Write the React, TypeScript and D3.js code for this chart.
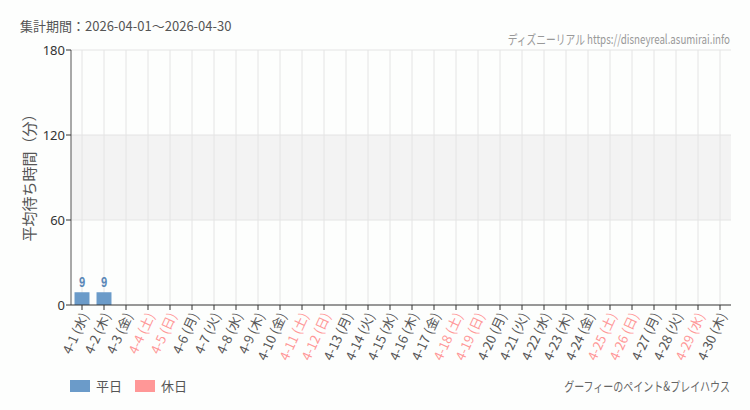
import React from "react";
import * as d3 from "d3";

const days: string[] = [
  "4-1 (水)", "4-2 (木)", "4-3 (金)", "4-4 (土)", "4-5 (日)", "4-6 (月)", "4-7 (火)", "4-8 (水)", "4-9 (木)", "4-10 (金)",
  "4-11 (土)", "4-12 (日)", "4-13 (月)", "4-14 (火)", "4-15 (水)", "4-16 (木)", "4-17 (金)", "4-18 (土)", "4-19 (日)", "4-20 (月)",
  "4-21 (火)", "4-22 (水)", "4-23 (木)", "4-24 (金)", "4-25 (土)", "4-26 (日)", "4-27 (月)", "4-28 (火)", "4-29 (水)", "4-30 (木)",
];
const holidays: boolean[] = days.map((d) => /土|日/.test(d.split("(")[1]) || d.startsWith("4-29"));
const waitValues: (number | null)[] = [
  9, 9, null, null, null, null, null, null, null, null,
  null, null, null, null, null, null, null, null, null, null,
  null, null, null, null, null, null, null, null, null, null,
];
const yTicks: number[] = [0, 60, 120, 180];

const W = 750, H = 410;
const L = 71, R = 731, T = 50, B = 305;
const JP = "'Noto Sans CJK JP', 'Noto Sans', sans-serif";
const BLUE = "#6b9bc9";
const PINK = "#ff9797";

export default function App() {
  const x = d3.scaleBand<string>().domain(days).range([L, R]).paddingInner(0.32).paddingOuter(0.16);
  const xc = (d: string) => (x(d) as number) + x.bandwidth() / 2;
  const y = d3.scaleLinear().domain([0, 180]).range([B, T]);

  return (
    <svg width={W} height={H} style={{ position: "absolute", left: 0, top: 0, background: "#fdfefd" }}>
      <rect x={0} y={0} width={W} height={H} fill="#fdfefd" />
      <text x={20} y={31} fontSize={13} fill="#555" fontFamily={JP}>集計期間：2026-04-01～2026-04-30</text>
      <g transform="translate(730,44) scale(0.75,1)">
        <text x={0} y={0} fontSize={13} fill="#999" textAnchor="end" fontFamily={JP}>
          ディズニーリアル https://disneyreal.asumirai.info
        </text>
      </g>

      {/* gray band */}
      <rect x={L} y={y(120)} width={R - L} height={y(60) - y(120)} fill="#f3f3f3" />
      {/* horizontal grid */}
      {yTicks.filter((t) => t > 0).map((t) => (
        <line key={t} x1={L} x2={R} y1={y(t)} y2={y(t)} stroke="#e4e4e4" strokeWidth={1} />
      ))}
      {/* vertical grid */}
      {days.map((d) => (
        <line key={d} x1={xc(d)} x2={xc(d)} y1={T} y2={B} stroke="#e4e4e4" strokeWidth={1} />
      ))}

      {/* bars */}
      {days.map((d, i) => {
        const v = waitValues[i];
        if (v == null) return null;
        return (
          <g key={d}>
            <rect x={x(d)} y={y(v)} width={x.bandwidth()} height={B - y(v)} fill={holidays[i] ? PINK : BLUE} />
            <g transform={`translate(${xc(d)},${y(v) - 5}) scale(0.8,1)`}>
              <text x={0} y={0} textAnchor="middle" fontSize={14} fontWeight="bold" fill="#5b88b8" fontFamily="'Liberation Sans', sans-serif">{v}</text>
            </g>
          </g>
        );
      })}

      {/* y axis */}
      <line x1={L} x2={L} y1={T} y2={B} stroke="#555" strokeWidth={1} />
      {yTicks.map((t) => (
        <g key={t}>
          <line x1={L - 5} x2={L} y1={y(t)} y2={y(t)} stroke="#333" />
          <text x={L - 6} y={y(t) + 4.5} textAnchor="end" fontSize={13} fill="#333" fontFamily="'Noto Sans', sans-serif">{t}</text>
        </g>
      ))}
      <text transform={`translate(35,174) rotate(-90)`} textAnchor="middle" fontSize={15} fill="#555" fontFamily={JP}>平均待ち時間（分）</text>

      {/* x axis */}
      <line x1={L} x2={R} y1={B} y2={B} stroke="#333" strokeWidth={1} />
      {days.map((d, i) => (
        <g key={d}>
          <line x1={xc(d)} x2={xc(d)} y1={B} y2={B + 5} stroke="#333" />
          <text transform={`translate(${xc(d) + 4},${B + 9}) rotate(-65)`} textAnchor="end" fontSize={13} fill={holidays[i] ? PINK : "#555"} fontFamily={JP} dominantBaseline="middle">{d}</text>
        </g>
      ))}

      {/* legend */}
      <rect x={70} y={380} width={20} height={12} fill={BLUE} />
      <text x={96} y={391} fontSize={13} fill="#555" fontFamily={JP}>平日</text>
      <rect x={135} y={380} width={20} height={12} fill={PINK} />
      <text x={161} y={391} fontSize={13} fill="#555" fontFamily={JP}>休日</text>
      <g transform="translate(730,391) scale(0.77,1)">
        <text x={0} y={0} fontSize={13} fill="#666" textAnchor="end" fontFamily={JP}>グーフィーのペイント&amp;プレイハウス</text>
      </g>
    </svg>
  );
}
